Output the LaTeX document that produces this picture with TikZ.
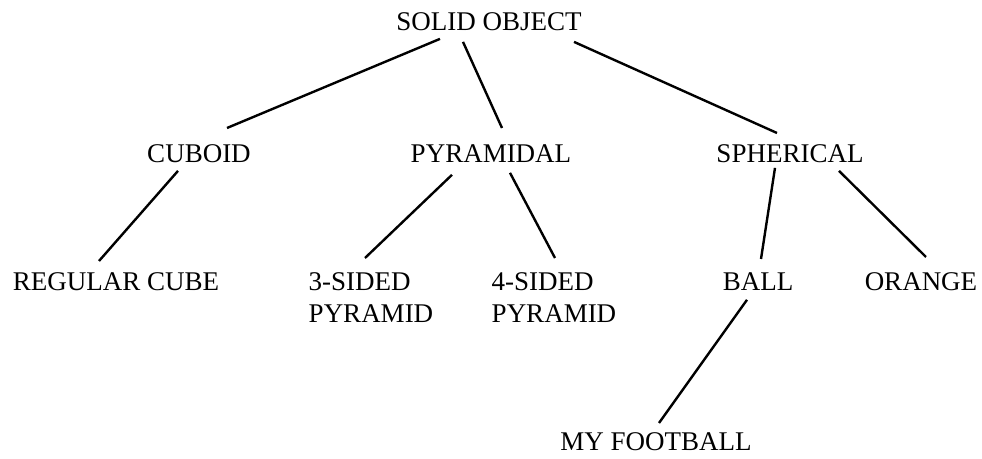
\documentclass[tikz,border=0pt]{standalone}
\usepackage{fontspec}
\setmainfont{Liberation Serif}
\begin{document}
\begin{tikzpicture}[x=0.5pt,y=-0.5pt,
    every node/.style={inner sep=0pt,outer sep=0pt,anchor=north,text depth=0pt,
      font=\fontsize{13.5}{16}\selectfont},
    branch/.style={line width=1.2pt}]
  \useasboundingbox (0,0) rectangle (982,459);
  \node (solid) at (489,13) {SOLID OBJECT};
  \node (cuboid) at (199,145) {CUBOID}; \node (pyram) at (491,145) {PYRAMIDAL};
  \node (spher) at (790,145) {SPHERICAL};
  \node (cube) at (116,273) {REGULAR CUBE};
  \node[align=left] (three) at (371,273) {3-SIDED\\PYRAMID};
  \node[align=left] (four) at (554,273) {4-SIDED\\PYRAMID};
  \node (ball) at (758,273) {BALL}; \node (orange) at (921,273) {ORANGE};
  \node (foot) at (656,433) {MY FOOTBALL};
  \draw[branch] ([shift={(-49,8)}]solid.south) -- ([shift={(28,-17)}]cuboid.north);
  \draw[branch] ([shift={(-26,11)}]solid.south) -- ([shift={(11,-17)}]pyram.north);
  \draw[branch] ([shift={(85,11)}]solid.south) -- ([shift={(-13,-12)}]spher.north);
  \draw[branch] ([shift={(-21,8)}]cuboid.south) -- ([shift={(-17,-12)}]cube.north);
  \draw[branch] ([shift={(-39,12)}]pyram.south) -- ([shift={(-6,-15)}]three.north);
  \draw[branch] ([shift={(19,10)}]pyram.south) -- ([shift={(1,-15)}]four.north);
  \draw[branch] ([shift={(-15,5)}]spher.south) -- ([shift={(3,-14)}]ball.north);
  \draw[branch] ([shift={(49,8)}]spher.south) -- ([shift={(5,-16)}]orange.north);
  \draw[branch] ([shift={(-11,9)}]ball.south) -- ([shift={(3,-10)}]foot.north);
\end{tikzpicture}
\end{document}
